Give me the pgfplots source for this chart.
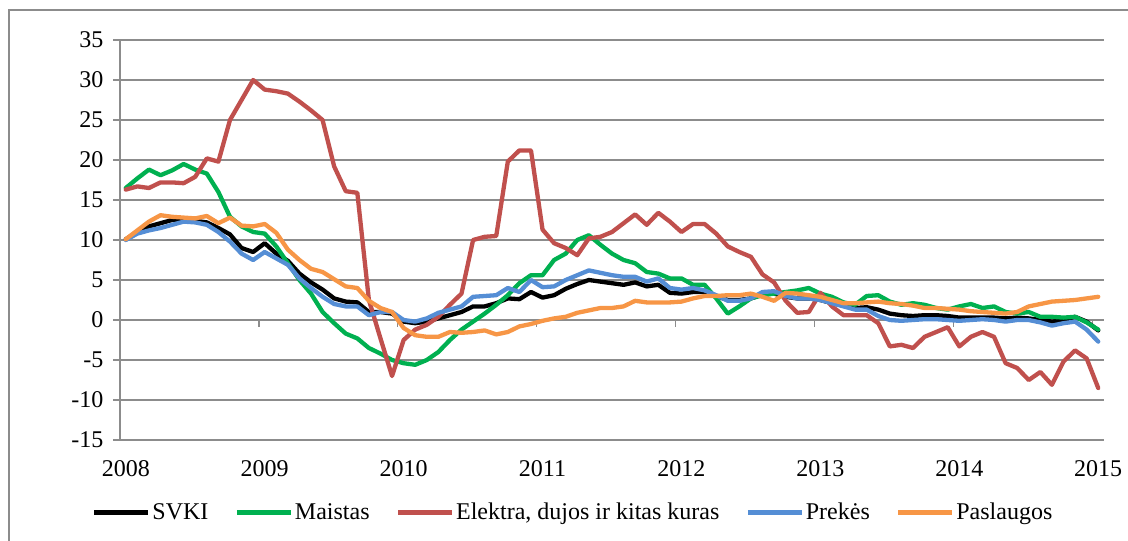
\documentclass[border=0pt]{standalone}
\usepackage{pgfplots}
\pgfplotsset{compat=1.18}
\usepackage{pgfplotstable}
\usepackage{fontspec}
\setmainfont{Liberation Serif}
\definecolor{gridgray}{RGB}{140,140,140}
\definecolor{cmaist}{RGB}{0,176,80}
\definecolor{celek}{RGB}{192,80,77}
\definecolor{cprek}{RGB}{85,142,213}
\definecolor{cpasl}{RGB}{247,150,70}
\pgfplotstableread{
i svki maistas elektra prekes paslaugos
0 10.1 16.5 16.3 10.0 10.1
1 11.0 17.7 16.7 10.8 11.2
2 11.7 18.8 16.5 11.2 12.3
3 12.1 18.1 17.2 11.5 13.1
4 12.5 18.7 17.2 11.9 12.9
5 12.5 19.5 17.1 12.3 12.8
6 12.4 18.8 17.9 12.2 12.7
7 12.2 18.3 20.2 11.9 13.0
8 11.5 16.0 19.8 11.0 12.1
9 10.7 12.9 25.0 9.8 12.8
10 9.0 11.7 27.5 8.3 11.8
11 8.5 11.0 30.0 7.5 11.7
12 9.6 10.8 28.8 8.5 12.0
13 8.3 9.2 28.6 7.7 10.9
14 7.4 7.1 28.3 6.9 8.8
15 5.8 5.0 27.3 5.2 7.5
16 4.7 3.3 26.2 4.0 6.4
17 3.8 1.0 25.0 2.9 6.0
18 2.7 -0.4 19.2 2.0 5.1
19 2.3 -1.7 16.1 1.7 4.2
20 2.2 -2.3 15.9 1.7 4.0
21 1.0 -3.5 2.5 0.6 2.4
22 1.0 -4.2 -2.3 1.0 1.5
23 0.8 -5.0 -7.0 1.0 1.0
24 -0.2 -5.4 -2.5 0.0 -1.0
25 -0.4 -5.6 -1.2 -0.2 -1.9
26 -0.2 -5.0 -0.6 0.2 -2.1
27 0.2 -4.0 0.4 0.9 -2.1
28 0.6 -2.5 1.9 1.3 -1.5
29 1.0 -1.2 3.3 1.7 -1.6
30 1.7 -0.2 10.0 2.9 -1.5
31 1.7 0.8 10.4 3.0 -1.3
32 2.1 1.9 10.5 3.1 -1.8
33 2.7 3.1 19.8 4.0 -1.5
34 2.6 4.6 21.2 3.5 -0.8
35 3.5 5.6 21.2 5.0 -0.5
36 2.8 5.6 11.3 4.1 -0.1
37 3.1 7.5 9.6 4.2 0.2
38 3.9 8.3 9.0 5.0 0.4
39 4.5 10.0 8.1 5.6 0.9
40 5.0 10.6 10.2 6.2 1.2
41 4.8 9.4 10.4 5.9 1.5
42 4.6 8.3 11.0 5.6 1.5
43 4.4 7.5 12.1 5.4 1.7
44 4.7 7.1 13.2 5.4 2.4
45 4.2 6.0 11.9 4.8 2.2
46 4.4 5.8 13.4 5.2 2.2
47 3.4 5.2 12.3 4.0 2.2
48 3.3 5.2 11.0 3.8 2.3
49 3.5 4.4 12.0 4.0 2.7
50 3.5 4.4 12.0 3.7 3.0
51 3.0 2.7 10.8 3.1 3.0
52 2.5 0.8 9.2 2.4 3.1
53 2.5 1.7 8.5 2.4 3.1
54 2.7 2.7 7.9 2.7 3.3
55 3.2 3.1 5.7 3.5 2.9
56 3.3 3.3 4.7 3.6 2.4
57 2.9 3.5 2.4 3.0 3.4
58 2.7 3.7 0.9 2.7 3.3
59 2.7 4.0 1.0 2.7 3.1
60 2.5 3.3 3.4 2.5 2.9
61 2.1 2.9 1.7 2.1 2.5
62 1.8 2.2 0.6 1.7 2.1
63 1.5 1.9 0.6 1.3 2.1
64 1.6 3.0 0.6 1.3 2.2
65 1.3 3.1 -0.4 0.5 2.3
66 0.8 2.3 -3.3 0.0 2.1
67 0.6 1.9 -3.1 -0.1 2.0
68 0.5 2.1 -3.5 0.0 1.8
69 0.6 1.9 -2.1 0.1 1.5
70 0.6 1.5 -1.5 0.1 1.5
71 0.5 1.3 -0.9 0.0 1.4
72 0.3 1.7 -3.3 -0.1 1.3
73 0.3 2.0 -2.1 0.0 1.1
74 0.3 1.5 -1.5 0.1 1.0
75 0.3 1.7 -2.1 0.0 0.9
76 0.2 1.0 -5.4 -0.2 0.8
77 0.3 0.8 -6.0 0.0 1.0
78 0.2 1.0 -7.5 0.0 1.7
79 0.0 0.4 -6.5 -0.3 2.0
80 -0.2 0.4 -8.1 -0.7 2.3
81 0.0 0.3 -5.2 -0.4 2.4
82 0.4 0.4 -3.8 -0.2 2.5
83 -0.2 -0.3 -4.8 -1.2 2.7
84 -1.3 -1.2 -8.5 -2.7 2.9
}\datatable
\begin{document}
\begin{tikzpicture}
\path[use as bounding box] (0,0) rectangle (1128bp,-541bp);
\draw[gridgray, line width=1.3bp] (9bp,-600bp) -- (9bp,-10bp) -- (1200bp,-10bp);
\begin{axis}[
  at={(120bp,-440bp)}, anchor=south west,
  scale only axis, width=984bp, height=400bp,
  xmin=-0.5, xmax=84.5, ymin=-15, ymax=35,
  xtick={0,12,24,36,48,60,72,84},
  xticklabels={2008,2009,2010,2011,2012,2013,2014,2015},
  ytick={-15,-10,...,35},
  ymajorgrids, grid style={gridgray, line width=1.3bp},
  axis x line*=bottom, axis y line*=left,
  axis line style={gridgray, line width=1.3bp},
  xtick style={draw=none},
  ytick style={gridgray, line width=1.3bp},
  tick align=outside, major tick length=7bp,
  tick label style={font=\fontsize{24bp}{28bp}\selectfont, text=black},
  /pgf/number format/assume math mode=true,
  xticklabel style={yshift=-10bp},
  yticklabel style={xshift=-6bp},
  every axis plot/.append style={line width=4.3bp, line join=round, line cap=round, mark=none},
  legend columns=5,
  legend style={at={(axis description cs:-0.0285,-0.18)}, anchor=west, draw=none, fill=none,
    inner sep=0pt, outer sep=0pt, nodes={inner sep=0pt},
    font=\fontsize{24bp}{28bp}\selectfont,
    /tikz/every odd column/.append style={column sep=1.5bp},
    /tikz/every even column/.append style={column sep=26bp}},
  legend cell align=left,
  legend image code/.code={\draw[#1, line width=5bp, line cap=butt] (0bp,0bp) -- (54bp,0bp);},
]
\pgfplotsinvokeforeach{1,...,7}{\draw[gridgray, line width=1.3bp] (axis cs:{-0.5+12*#1},0) -- ([yshift=-7bp]axis cs:{-0.5+12*#1},0);}
\addplot[black] table[x=i, y=svki] {\datatable};
\addlegendentry{SVKI}
\addplot[cmaist] table[x=i, y=maistas] {\datatable};
\addlegendentry{Maistas}
\addplot[celek] table[x=i, y=elektra] {\datatable};
\addlegendentry{Elektra, dujos ir kitas kuras}
\addplot[cprek] table[x=i, y=prekes] {\datatable};
\addlegendentry{Prekės}
\addplot[cpasl] table[x=i, y=paslaugos] {\datatable};
\addlegendentry{Paslaugos}
\end{axis}
\end{tikzpicture}
\end{document}
